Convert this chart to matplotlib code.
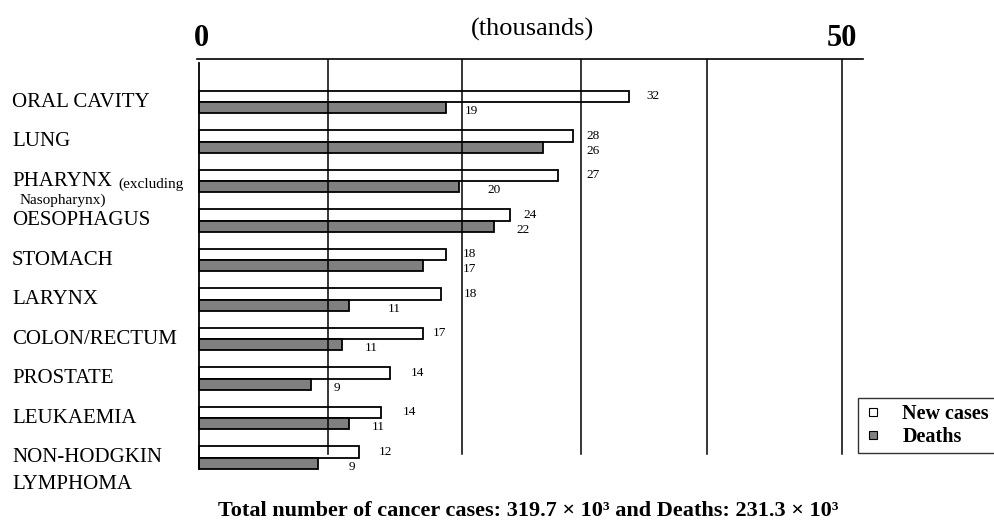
import matplotlib
matplotlib.use('Agg')
import matplotlib.pyplot as plt
from matplotlib.lines import Line2D
from matplotlib.transforms import blended_transform_factory

plt.rcParams['font.family'] = 'Liberation Serif'

# cancer sites, top to bottom
sites = ['ORAL CAVITY', 'LUNG', 'PHARYNX', 'OESOPHAGUS', 'STOMACH', 'LARYNX',
         'COLON/RECTUM', 'PROSTATE', 'LEUKAEMIA', 'NON-HODGKIN\nLYMPHOMA']

# bar lengths (thousands) as drawn in the picture
new_cases = [33.4, 29.1, 27.9, 24.2, 19.2, 18.8, 17.4, 14.8, 14.1, 12.4]
deaths = [19.2, 26.7, 20.2, 22.9, 17.4, 11.6, 11.1, 8.7, 11.6, 9.2]

# printed values next to the bars
new_labels = ['32', '28', '27', '24', '18', '18', '17', '14', '14', '12']
death_labels = ['19', '26', '20', '22', '17', '11', '11', '9', '11', '9']

# vertical rules as drawn (thousands)
grid_at = [0, 10, 20.4, 29.7, 39.5, 50]

W, H, DPI = 995, 521, 100
px = 72.0 / DPI  # pixels -> points

# label gaps from the bar end (pixels)
new_gap = [18, 13, 28, 13, 17, 23, 10, 21, 22, 20]
death_gap = [19, 44, 28, 23, 40, 39, 23, 22, 23, 31]

fig = plt.figure(figsize=(W / DPI, H / DPI), dpi=DPI)
ax = fig.add_axes([197.3 / W, 1 - 470 / H, (862.7 - 197.3) / W, (470 - 59.3) / H])
ax.set_xlim(-0.171, 51.61)
ax.set_ylim(9.316, -1.081)

h = 0.29
ys = list(range(len(sites)))
ax.barh([y - h / 2 for y in ys], new_cases, height=h, color='white',
        edgecolor='black', linewidth=1.3, zorder=2)
ax.barh([y + h / 2 for y in ys], deaths, height=h, color='#808080',
        edgecolor='black', linewidth=1.3, zorder=2)

for g in grid_at:
    if g == 0:
        ax.axvline(g, ymin=0.0024, ymax=0.9917, color='black', lw=1.3, zorder=3)
    else:
        ax.axvline(g, ymin=0.039, ymax=1, color='black', lw=1.1, zorder=3)

for s in ['left', 'right', 'bottom']:
    ax.spines[s].set_visible(False)
ax.spines['top'].set_linewidth(1.2)
ax.set_xticks([])
ax.set_yticks([])

# value labels
for i in ys:
    ax.annotate(new_labels[i], xy=(new_cases[i], i - h / 2),
                xytext=(new_gap[i] * px, 0), textcoords='offset points',
                ha='left', va='center', fontsize=9.5)
    ax.annotate(death_labels[i], xy=(deaths[i], i + h / 2),
                xytext=(death_gap[i] * px, -3.5 * px), textcoords='offset points',
                ha='left', va='center', fontsize=9.5)

# site names
trans = blended_transform_factory(fig.transFigure, ax.transData)
for i, name in enumerate(sites):
    for j, line in enumerate(name.split('\n')):
        t = ax.annotate(line, xy=(12 / W, i), xycoords=trans,
                        xytext=(0, -27 * j * px), textcoords='offset points',
                        ha='left', va='center', fontsize=15)
    if name == 'PHARYNX':
        ax.annotate('(excluding', xy=(1, 0), xycoords=t, xytext=(6 * px, 0),
                    textcoords='offset points', ha='left', va='bottom', fontsize=11)
        ax.annotate('Nasopharynx)', xy=(20 / W, i), xycoords=trans,
                    xytext=(0, -19 * px), textcoords='offset points',
                    ha='left', va='center', fontsize=11)

# scale labels
fig.text(201.5 / W, 1 - 39 / H, '0', ha='center', va='center',
         fontsize=22, fontweight='bold')
fig.text(841.5 / W, 1 - 39 / H, '50', ha='center', va='center',
         fontsize=22, fontweight='bold')
fig.text(532 / W, 1 - 29 / H, '(thousands)', ha='center', va='center', fontsize=19)

handles = [Line2D([], [], marker='s', ls='none', mfc='white', mec='black', ms=5.5, mew=0.8),
           Line2D([], [], marker='s', ls='none', mfc='#808080', mec='black', ms=5.5, mew=0.8)]
leg = fig.legend(handles, ['New cases', 'Deaths'], loc='upper left',
                 bbox_to_anchor=(858 / W, 1 - 398 / H), borderaxespad=0,
                 prop={'weight': 'bold', 'size': 14.5}, frameon=True, fancybox=False,
                 edgecolor='black', handlelength=0.9, handletextpad=1.0,
                 borderpad=0.3, labelspacing=0.15)
leg.get_frame().set_linewidth(1.0)

fig.text(528 / W, 1 - 511 / H,
         'Total number of cancer cases: 319.7 \u00d7 10\u00b3 and Deaths: 231.3 \u00d7 10\u00b3',
         ha='center', va='center', fontsize=16, fontweight='bold')

fig.savefig('out.png', dpi=DPI)
